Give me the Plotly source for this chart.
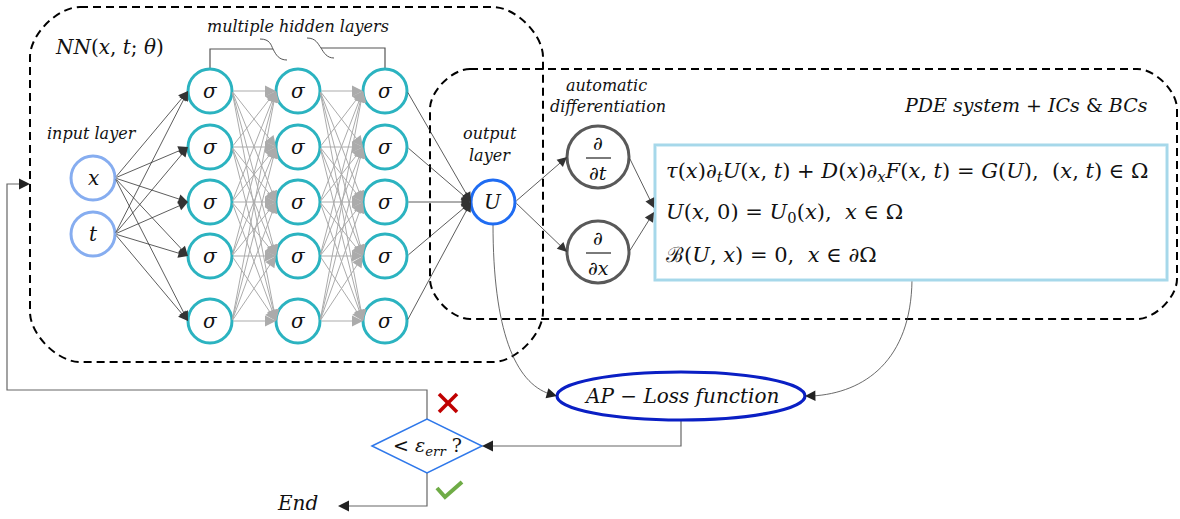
import plotly.graph_objects as go

# ------------------------------------------------------------------
# Content (labels / text of the diagram)
# ------------------------------------------------------------------
input_labels = ["x", "t"]
hidden_layer_ids = ["hidden 1", "hidden 2", "hidden 3"]
hidden_neuron_label = "σ"
neurons_per_layer = ["n1", "n2", "n3", "n4", "n5"]
output_label = "U"
autodiff_vars = ["t", "x"]
nn_title = "<i>NN</i>(<i>x</i>, <i>t</i>; <i>θ</i>)"
hidden_title = "<i>multiple hidden layers</i>"
input_title = "<i>input layer</i>"
output_title = ["<i>output</i>", "<i>layer</i>"]
autodiff_title = ["<i>automatic</i>", "<i>differentiation</i>"]
pde_title = "<i>PDE system</i> + <i>ICs</i> &amp; <i>BCs</i>"
equation_lines = [
    "<i>τ</i>(<i>x</i>)<i>∂<sub>t</sub>U</i>(<i>x</i>, <i>t</i>) + <i>D</i>(<i>x</i>)<i>∂<sub>x</sub>F</i>(<i>x</i>, <i>t</i>) = <i>G</i>(<i>U</i>),&#160;&#160;(<i>x</i>, <i>t</i>) ∈ Ω",
    "<i>U</i>(<i>x</i>, 0) = <i>U</i><sub>0</sub>(<i>x</i>),&#160;&#160;<i>x</i> ∈ Ω",
    "ℬ(<i>U</i>, <i>x</i>) = 0,&#160;&#160;<i>x</i> ∈ ∂Ω",
]
loss_label = "<i>AP</i> − <i>Loss function</i>"
criterion_label = "&lt; <i>ε<sub>err</sub></i> ?"
end_label = "<i>End</i>"

# ------------------------------------------------------------------
# Geometry (pixels, y downwards) and styles
# ------------------------------------------------------------------
W, H = 1180, 519
FONT = "DejaVu Serif"
input_xy = [(93, 178), (93, 234)]
hidden_x = [210, 298, 385]
hidden_y = [91, 147, 202, 256, 321]
R = 22
out_xy = (493, 202)
diff_xy = [(598, 157), (598, 252)]
DR = 31
eq_box = (655, 145, 1167, 280)
eq_y = [172, 213, 255]
loss_c, loss_rx, loss_ry = (681, 396), 124, 24
dia_c, dia_w, dia_h = (427, 446), 55, 27

TEAL = "#2bb3c0"
LIGHTBLUE = "#86adf0"
BLUE = "#1f6cf2"
GRAY_N = "#595959"

shapes = []
annotations = []


def circle(cx, cy, r, color, width=3):
    shapes.append(dict(type="circle", xref="x", yref="y", x0=cx - r, x1=cx + r,
                       y0=cy - r, y1=cy + r, line=dict(color=color, width=width),
                       fillcolor="white", layer="above"))


def path(d, color="#555", width=1, dash=None):
    ln = dict(color=color, width=width)
    if dash:
        ln["dash"] = dash
    shapes.append(dict(type="path", xref="x", yref="y", path=d, line=ln, layer="above"))


def line(x0, y0, x1, y1, color="#555", width=1):
    shapes.append(dict(type="line", xref="x", yref="y", x0=x0, y0=y0, x1=x1, y1=y1,
                       line=dict(color=color, width=width), layer="above"))


def arrow(x0, y0, x1, y1, color="#222", width=0.8, size=2.6, head=2):
    annotations.append(dict(x=x1, y=y1, ax=x0, ay=y0, xref="x", yref="y",
                            axref="x", ayref="y", text="", showarrow=True,
                            arrowhead=head, arrowsize=size, arrowwidth=width,
                            arrowcolor=color))


def text(x, y, s, size=20, color="#111", xanchor="center"):
    annotations.append(dict(x=x, y=y, xref="x", yref="y", text=s, showarrow=False,
                            xanchor=xanchor, yanchor="middle",
                            font=dict(family=FONT, size=size, color=color)))


def rounded(x0, y0, x1, y1, r):
    k = 0.45 * r
    return (f"M {x0 + r},{y0} L {x1 - r},{y0} C {x1 - r + k},{y0} {x1},{y0 + r - k} {x1},{y0 + r} "
            f"L {x1},{y1 - r} C {x1},{y1 - r + k} {x1 - r + k},{y1} {x1 - r},{y1} "
            f"L {x0 + r},{y1} C {x0 + r - k},{y1} {x0},{y1 - r + k} {x0},{y1 - r} "
            f"L {x0},{y0 + r} C {x0},{y0 + r - k} {x0 + r - k},{y0} {x0 + r},{y0} Z")


# dashed group boxes
path(rounded(30, 7, 543, 362, 50), color="black", width=2, dash="8px,5px")
path(rounded(430, 69, 1177, 319, 40), color="black", width=2, dash="8px,5px")

# connections: input -> hidden 1
for (ix, iy) in input_xy:
    for hy in hidden_y:
        arrow(ix + R, iy, hidden_x[0] - R, hy, color="#333", width=0.8, size=2.4)

# connections: hidden -> hidden (gray)
for li in range(len(hidden_layer_ids) - 1):
    for sy in hidden_y:
        for ty in hidden_y:
            arrow(hidden_x[li] + R, sy, hidden_x[li + 1] - R, ty, color="#ababab",
                  width=1, size=2.2)

# connections: hidden 3 -> output
for sy in hidden_y:
    arrow(hidden_x[-1] + R, sy, out_xy[0] - R, out_xy[1], color="#333", width=0.8, size=2.4)

# output -> derivatives -> equations
for (dx, dy) in diff_xy:
    arrow(out_xy[0] + R, out_xy[1], dx - DR, dy, color="#333", width=0.8, size=2.4)
arrow(diff_xy[0][0] + DR, diff_xy[0][1], eq_box[0] - 1, 208, color="#333", width=0.8, size=2.4)
arrow(diff_xy[1][0] + DR, diff_xy[1][1], eq_box[0] - 1, 212, color="#333", width=0.8, size=2.4)

# curves to loss
path(f"M {out_xy[0]},{out_xy[1] + R} C {out_xy[0]},330 515,383 550,394", color="#444", width=0.8)
arrow(548, 393.5, loss_c[0] - loss_rx, loss_c[1], color="#222", width=0.8, size=2.6)
path(f"M 912,{eq_box[3]} C 911,360 865,393 812,396", color="#444", width=0.8)
arrow(814, 395.8, loss_c[0] + loss_rx, loss_c[1], color="#222", width=0.8, size=2.6)

# loss -> decision
path(f"M {loss_c[0]},{loss_c[1] + loss_ry} L {loss_c[0]},{dia_c[1]} L {dia_c[0] + dia_w + 6},{dia_c[1]}",
     color="#666", width=1.2)
arrow(dia_c[0] + dia_w + 8, dia_c[1], dia_c[0] + dia_w, dia_c[1], color="#222", width=1, size=2.2)

# feedback loop
path(f"M {dia_c[0]},{dia_c[1] - dia_h} L {dia_c[0]},390 L 7,390 L 7,184 L 22,184", color="#666", width=1.2)
arrow(20, 184, 30, 184, color="#222", width=1, size=2.2)

# to End
path(f"M {dia_c[0]},{dia_c[1] + dia_h} L {dia_c[0]},506 L 346,506", color="#666", width=1.2)
arrow(348, 506, 338, 506, color="#222", width=1, size=2.2)

# bracket for hidden layers
path(f"M {hidden_x[0]},{hidden_y[0] - R} L {hidden_x[0]},49 L 273,49", color="#555", width=1.2)
path("M 260,39 C 270,39 271,45 273,49 C 276,55 279,60 287,60", color="#555", width=1)
path("M 307,38 C 316,38 318,44 321,48 C 324,53 327,58 334,58", color="#555", width=1)
path(f"M 321,48 L {hidden_x[-1]},48 L {hidden_x[-1]},{hidden_y[0] - R}", color="#555", width=1.2)

# equation box
shapes.append(dict(type="rect", xref="x", yref="y", x0=eq_box[0], y0=eq_box[1], x1=eq_box[2],
                   y1=eq_box[3], line=dict(color="#a6d8ea", width=3), fillcolor="white", layer="above"))
shapes.append(dict(type="rect", xref="x", yref="y", x0=eq_box[0] + 1.5, y0=eq_box[1] + 1.5,
                   x1=eq_box[2] - 1.5, y1=eq_box[3] - 1.5, line=dict(color="#d6eef6", width=0.8),
                   layer="above"))

# loss ellipse
shapes.append(dict(type="circle", xref="x", yref="y", x0=loss_c[0] - loss_rx, x1=loss_c[0] + loss_rx,
                   y0=loss_c[1] - loss_ry, y1=loss_c[1] + loss_ry,
                   line=dict(color="#0a1fc4", width=3.2), fillcolor="white", layer="above"))

# decision diamond
cx, cy = dia_c
path(f"M {cx - dia_w},{cy} L {cx},{cy - dia_h} L {cx + dia_w},{cy} L {cx},{cy + dia_h} Z",
     color="#2f78ea", width=1.5)

# red cross and green check
line(439, 394, 457, 412, color="#c00000", width=3.5)
line(457, 394, 439, 412, color="#c00000", width=3.5)
path("M 437,488 L 445,497 L 462,482", color="#6fac46", width=4)

# nodes
for (ix, iy), lab in zip(input_xy, input_labels):
    circle(ix, iy, R, LIGHTBLUE, 3)
for hx in hidden_x:
    for hy in hidden_y:
        circle(hx, hy, R, TEAL, 3)
circle(out_xy[0], out_xy[1], R, BLUE, 3)
for (dx, dy) in diff_xy:
    circle(dx, dy, DR, GRAY_N, 3)

# node labels
for (ix, iy), lab in zip(input_xy, input_labels):
    text(ix, iy, f"<i>{lab}</i>", size=20)
for li in range(len(hidden_layer_ids)):
    for ni in range(len(neurons_per_layer)):
        text(hidden_x[li], hidden_y[ni], f"<i>{hidden_neuron_label}</i>", size=20)
text(out_xy[0], out_xy[1], f"<i>{output_label}</i>", size=20)
for (dx, dy), v in zip(diff_xy, autodiff_vars):
    text(dx, dy - 14, "<i>∂</i>", size=19)
    text(dx, dy + 16, f"<i>∂{v}</i>", size=19)
    line(dx - 12, dy + 1, dx + 13, dy + 1, color="#222", width=1.2)

# titles
text(109, 47, nn_title, size=20)
text(298, 26, hidden_title, size=16)
text(92, 133, input_title, size=16)
text(490, 133, output_title[0], size=16)
text(490, 155, output_title[1], size=16)
text(606, 85, autodiff_title[0], size=16)
text(608, 106, autodiff_title[1], size=16)
text(1150, 105, pde_title, size=19, xanchor="right")
for y, s in zip(eq_y, equation_lines):
    text(664, y, s, size=21, xanchor="left")
text(loss_c[0], loss_c[1], loss_label, size=20)
text(cx, cy, criterion_label, size=19)
text(297, 503, end_label, size=20)

fig = go.Figure()
fig.update_layout(
    width=W, height=H, margin=dict(l=0, r=0, t=0, b=0),
    paper_bgcolor="white", plot_bgcolor="white",
    xaxis=dict(range=[0, W], visible=False, fixedrange=True),
    yaxis=dict(range=[H, 0], visible=False, fixedrange=True),
    shapes=shapes, annotations=annotations, showlegend=False,
)
fig.write_html("out.html", config={"displayModeBar": False},
               post_script="document.body.style.margin='0';")
